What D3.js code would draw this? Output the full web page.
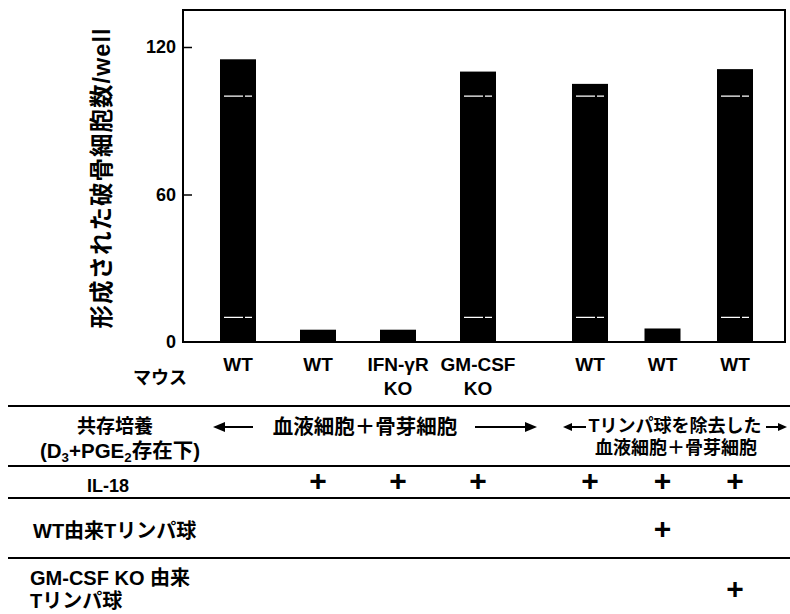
<!DOCTYPE html>
<html><head><meta charset="utf-8">
<script src="https://cdn.jsdelivr.net/npm/d3@7"></script>
<style>body{margin:0;background:#fff} svg{display:block}</style>
</head><body><svg id="c" width="790" height="614"></svg>
<script>
// ---- data ----
const categories = ["WT","WT","IFN-γR\nKO","GM-CSF\nKO","WT","WT","WT"];
const categoryGroup = [0,0,0,0,1,1,1];
const groupLabels = ["血液細胞＋骨芽細胞","Tリンパ球を除去した\n血液細胞＋骨芽細胞"];
const values = [115,5,5,110,105,5.5,111];
const yTicks = [0,60,120];
const streakLevels = [10,100];
const yTitle = "形成された破骨細胞数/well";
const mouseLabel = "マウス";
const rowLabels = ["共存培養\n(D_3+PGE_2存在下)","IL-18","WT由来Tリンパ球","GM-CSF KO 由来\nTリンパ球"];
const il18 = ["","+","+","+","+","+","+"];
const wtTcells = ["","","","","","+",""];
const gmTcells = ["","","","","","","+"];

// ---- layout ----
const FONT = "'Liberation Sans', Arial, 'Noto Sans CJK JP', sans-serif";
const svg = d3.select("#c");
const pLeft = 183, pRight = 785, pTop = 10, pBase = 342;
const y = d3.scaleLinear().domain([0,120]).range([pBase,47]);
const idx = d3.range(categories.length);
const groupRanges = [[198,518],[553.75,771.25]];
const groupScales = groupRanges.map((r,g) =>
  d3.scaleBand().domain(idx.filter(i => categoryGroup[i]===g)).range(r).padding(0));
const xc = i => { const s = groupScales[categoryGroup[i]]; return s(i) + s.bandwidth()/2; };
const barW = 36;

// bars
svg.append("g").selectAll("rect").data(values).join("rect")
  .attr("x",(d,i)=>xc(i)-barW/2).attr("width",barW)
  .attr("y",d=>y(d)).attr("height",d=>y(0)-y(d)).attr("fill","#000");
// white streaks in tall bars
const tall = idx.filter(i => values[i] > streakLevels[1]);
streakLevels.forEach(lv => {
  svg.append("g").selectAll("line").data(tall).join("line")
    .attr("x1",i=>xc(i)-barW/2+4).attr("x2",i=>xc(i)+barW/2-4)
    .attr("y1",y(lv)).attr("y2",y(lv))
    .attr("stroke","#fff").attr("stroke-width",1.4).attr("stroke-dasharray","19,2,40");
});

// frame
svg.append("rect").attr("x",pLeft).attr("y",pTop).attr("width",pRight-pLeft).attr("height",pBase-pTop)
  .attr("fill","none").attr("stroke","#000").attr("stroke-width",2);
// y axis ticks (inward) and labels
const yAxis = d3.axisRight(y).tickValues(yTicks.filter(t=>t>0)).tickSize(9).tickFormat("");
svg.append("g").attr("transform",`translate(${pLeft},0)`).call(yAxis)
  .call(g=>g.select(".domain").remove())
  .selectAll("line").attr("stroke","#000").attr("stroke-width",1.5);
svg.append("g").selectAll("text").data(yTicks).join("text")
  .attr("x",176).attr("y",d=>y(d)).attr("dy","0.36em").attr("text-anchor","end")
  .attr("font-family",FONT).attr("font-weight","bold").attr("font-size",18).text(d=>d);
// y title
svg.append("text").attr("transform","translate(102,178) rotate(-90)")
  .attr("text-anchor","middle").attr("dy","0.36em").attr("letter-spacing",1)
  .attr("font-family",FONT).attr("font-weight","bold").attr("font-size",23.5).text(yTitle);

// category labels
const cl = svg.append("g").selectAll("text").data(categories).join("text")
  .attr("text-anchor","middle").attr("font-family",FONT).attr("font-weight","bold").attr("font-size",19);
cl.each(function(d,i){
  d.split("\n").forEach((t,k)=>{
    d3.select(this).append("tspan").attr("x",xc(i)).attr("y",364+k*24).attr("dy","0.36em").text(t);
  });
});
svg.append("text").attr("x",160).attr("y",378).attr("dy","0.36em").attr("text-anchor","middle")
  .attr("font-family",FONT).attr("font-weight","bold").attr("font-size",18).text(mouseLabel);

// table lines
[406,466,498,558].forEach(ly=>{
  svg.append("line").attr("x1",8).attr("x2",790).attr("y1",ly).attr("y2",ly)
    .attr("stroke","#000").attr("stroke-width",2);
});

function arrow(x1,x2,yy,len,hw){
  const dir = Math.sign(x2-x1);
  svg.append("line").attr("x1",x1).attr("x2",x2-dir*len*0.8).attr("y1",yy).attr("y2",yy)
    .attr("stroke","#000").attr("stroke-width",2);
  svg.append("path").attr("d",`M${x2},${yy} L${x2-dir*len},${yy-hw} L${x2-dir*len},${yy+hw} Z`).attr("fill","#000");
}
// group headers
svg.append("text").attr("x",365).attr("y",427).attr("dy","0.36em").attr("text-anchor","middle")
  .attr("font-family",FONT).attr("font-weight","bold").attr("font-size",20.5).text(groupLabels[0]);
arrow(253,213,427,12,5);
arrow(475,537,427,12,5);
const g2 = groupLabels[1].split("\n");
svg.append("text").attr("x",675).attr("y",426).attr("dy","0.36em").attr("text-anchor","middle")
  .attr("font-family",FONT).attr("font-weight","bold").attr("font-size",18).text(g2[0]);
svg.append("text").attr("x",676).attr("y",448).attr("dy","0.36em").attr("text-anchor","middle")
  .attr("font-family",FONT).attr("font-weight","bold").attr("font-size",18).text(g2[1]);
arrow(586,563,427,9,4);
arrow(766,787,427,9,4);

// row labels
function richText(sel, str){
  let shifted = false;
  str.split(/(_\d)/).forEach(p=>{
    if(!p) return;
    if(p[0]==="_"){ sel.append("tspan").attr("font-size","0.65em").attr("dy",4).text(p[1]); shifted = true; }
    else { const t = sel.append("tspan").text(p); if(shifted){ t.attr("dy",-4); shifted=false; } }
  });
}
const rl0 = rowLabels[0].split("\n");
svg.append("text").attr("x",115).attr("y",426).attr("dy","0.36em").attr("text-anchor","middle")
  .attr("font-family",FONT).attr("font-weight","bold").attr("font-size",19).text(rl0[0]);
const t1 = svg.append("text").attr("x",120).attr("y",458).attr("text-anchor","middle")
  .attr("font-family",FONT).attr("font-weight","bold").attr("font-size",20.5);
richText(t1, rl0[1]);
svg.append("text").attr("x",108).attr("y",486).attr("dy","0.36em").attr("text-anchor","middle")
  .attr("font-family",FONT).attr("font-weight","bold").attr("font-size",18).text(rowLabels[1]);
svg.append("text").attr("x",33).attr("y",531).attr("dy","0.36em")
  .attr("font-family",FONT).attr("font-weight","bold").attr("font-size",20).text(rowLabels[2]);
const rl3 = rowLabels[3].split("\n");
svg.append("text").attr("x",30).attr("y",578).attr("dy","0.36em")
  .attr("font-family",FONT).attr("font-weight","bold").attr("font-size",20).text(rl3[0]);
svg.append("text").attr("x",30).attr("y",601).attr("dy","0.36em")
  .attr("font-family",FONT).attr("font-weight","bold").attr("font-size",20).text(rl3[1]);

// plus marks
[[il18,480],[wtTcells,528],[gmTcells,588]].forEach(([arr,yy])=>{
  svg.append("g").selectAll("text").data(arr).join("text")
    .attr("x",(d,i)=>xc(i)).attr("y",yy).attr("dy","0.36em").attr("text-anchor","middle")
    .attr("font-family",FONT).attr("font-weight","bold").attr("font-size",30).text(d=>d);
});
</script></body></html>
